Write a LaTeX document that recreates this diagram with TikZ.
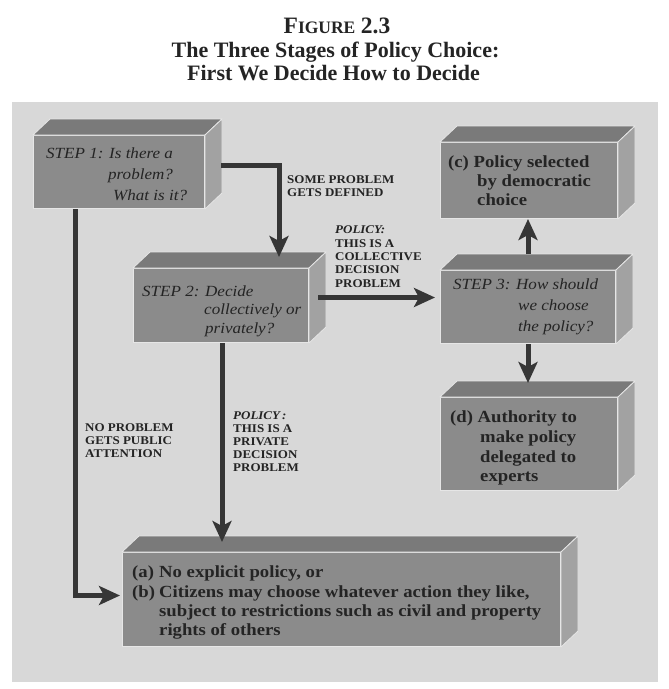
\documentclass[tikz,border=0pt]{standalone}
\usepackage{fontspec}
\setmainfont{Liberation Serif}[FakeStretch=1.1]
\newfontfamily\titlefont{Liberation Serif}
\usetikzlibrary{arrows.meta,calc}

\definecolor{panelc}{HTML}{D8D8D8}
\definecolor{frontc}{HTML}{8B8B8B}
\definecolor{topc}{HTML}{7A7A7A}
\definecolor{sidec}{HTML}{A2A2A2}
\definecolor{edgec}{HTML}{E6E6E6}
\definecolor{inkc}{HTML}{242424}
\definecolor{arrc}{HTML}{363636}

\tikzset{
  box/.style={rectangle, fill=frontc, draw=edgec, line width=1pt, inner sep=0pt, anchor=north west},
  topface/.style={fill=topc, draw=edgec, line width=0.8pt, line join=round},
  sideface/.style={fill=sidec, draw=edgec, line width=0.8pt, line join=round},
  arr/.style={draw=arrc, line width=5pt, -{Stealth[length=21pt,width=19pt,inset=5pt]}},
  ttl/.style={anchor=base, inner sep=0pt, text=inkc, font=\titlefont\bfseries\fontsize{22}{25}\selectfont},
  stp/.style={anchor=base west, inner sep=0pt, text=inkc, font=\itshape\fontsize{15.5}{18}\selectfont},
  res/.style={anchor=base west, inner sep=0pt, text=inkc, font=\bfseries\fontsize{17}{19}\selectfont},
  lab/.style={anchor=base west, inner sep=0pt, text=inkc, font=\bfseries\fontsize{11.8}{13}\selectfont},
  labit/.style={lab, font=\bfseries\itshape\fontsize{11.8}{13}\selectfont},
}
\newcommand\boxfaces[1]{%
  \path[topface] (#1.north west) -- ++(17,-16) -- ($(#1.north east)+(17,-16)$) -- (#1.north east) -- cycle;
  \path[sideface] (#1.north east) -- ++(17,-16) -- ($(#1.south east)+(17,-16)$) -- (#1.south east) -- cycle;
}

\begin{document}
\begin{tikzpicture}[x=1pt,y=-1pt]
\useasboundingbox (0,0) rectangle (669,689);
\fill[white] (0,0) rectangle (669,689);
\fill[panelc] (12,102) rectangle (658,682);

% title
\node[ttl] (title1) at (337,33) {{\fontsize{23.5}{26}\selectfont F}{\fontsize{17.5}{20}\selectfont IGURE} {\fontsize{23.5}{26}\selectfont 2.3}};
\node[ttl] (title2) at (335.5,57) {The Three Stages of Policy Choice:};
\node[ttl] (title3) at (333.5,80) {First We Decide How to Decide};

% boxes
\node[box, minimum width=171pt, minimum height=73pt] (s1) at (33,135) {};
\boxfaces{s1}
\node[box, minimum width=175pt, minimum height=74pt] (s2) at (133,268) {};
\boxfaces{s2}
\node[box, minimum width=175pt, minimum height=73pt] (s3) at (440,270) {};
\boxfaces{s3}
\node[box, minimum width=177pt, minimum height=76pt] (c) at (440,142) {};
\boxfaces{c}
\node[box, minimum width=177pt, minimum height=93pt] (d) at (440,397) {};
\boxfaces{d}
\node[box, minimum width=438pt, minimum height=94pt] (bot) at (122,552) {};
\boxfaces{bot}

% box texts
\node[stp] (s1a) at (46,158) {STEP 1: Is there a};
\node[stp] (s1b) at (108,179) {problem?};
\node[stp] (s1c) at (113,200) {What is it?};

\node[stp] (s2a) at (142,296) {STEP 2: Decide};
\node[stp] (s2b) at (204,314) {collectively or};
\node[stp] (s2c) at (205,333) {privately?};

\node[stp] (s3a) at (453,289) {STEP 3: How should};
\node[stp] (s3b) at (518,310) {we choose};
\node[stp] (s3c) at (518,331) {the policy?};

\node[res] (ca) at (448,167) {(c) Policy selected};
\node[res] (cb) at (477,186) {by democratic};
\node[res] (cc) at (477,205) {choice};

\node[res] (da) at (450,422) {(d) Authority to};
\node[res] (db) at (480,442) {make policy};
\node[res] (dc) at (480,462) {delegated to};
\node[res] (dd) at (480,481) {experts};

\node[res] (ba0) at (132,577) {(a)};
\node[res] (ba) at (159,577) {No explicit policy, or};
\node[res] (bb0) at (132,597) {(b)};
\node[res] (bb) at (159,597) {Citizens may choose whatever action they like,};
\node[res] (bc) at (159,616) {subject to restrictions such as civil and property};
\node[res] (bd) at (159,635) {rights of others};

% connectors
\draw[arr] ($(s1.east)+(16,-7)$) -| ($(s2.north west)+(146,-11)$);
\draw[arr] ($(s1.south west)+(42,0)$) |- ($(bot.west)+(-2,-4)$);
\draw[arr] ($(s2.south west)+(89,0)$) -- ($(bot.north west)+(100,-10)$);
\draw[arr] ($(s2.east)+(9,-8)$) -- ($(s3.west)+(-5,-9.5)$);
\draw[arr] ($(s3.north)+(0,-16)$) -- (s3.north |- c.south);
\draw[arr] (s3.south) -- ($(s3.south |- d.north)+(0,-14)$);

% connector labels
\node[lab] (l1a) at (287,183) {SOME PROBLEM};
\node[lab] (l1b) at (287,196) {GETS DEFINED};

\node[labit] (l2a) at (335,233) {POLICY:};
\node[lab] (l2b) at (335,247) {THIS IS A};
\node[lab] (l2c) at (335,260) {COLLECTIVE};
\node[lab] (l2d) at (335,273) {DECISION};
\node[lab] (l2e) at (335,287) {PROBLEM};

\node[lab] (l3a) at (85,431) {NO PROBLEM};
\node[lab] (l3b) at (85,444) {GETS PUBLIC};
\node[lab] (l3c) at (85,457) {ATTENTION};

\node[labit] (l4a) at (233,419) {POLICY\,:};
\node[lab] (l4b) at (233,432) {THIS IS A};
\node[lab] (l4c) at (233,445) {PRIVATE};
\node[lab] (l4d) at (233,458) {DECISION};
\node[lab] (l4e) at (233,471) {PROBLEM};
\end{tikzpicture}
\end{document}
